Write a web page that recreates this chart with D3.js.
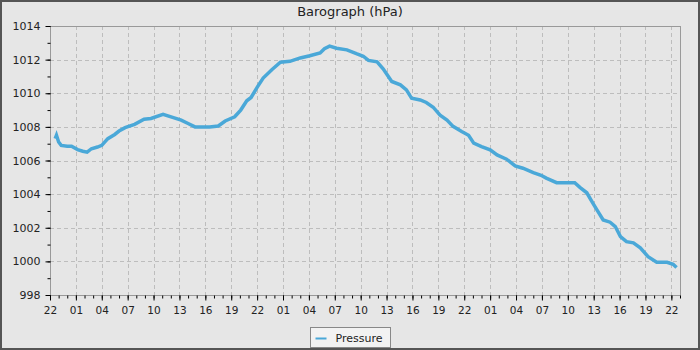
<!DOCTYPE html>
<html>
<head>
<meta charset="utf-8">
<script src="https://cdn.jsdelivr.net/npm/d3@7"></script>
<style>
  body { margin: 0; background: #e6e6e6; }
  svg { display: block; font-family: "DejaVu Sans", sans-serif; }
</style>
</head>
<body>
<div id="chart"></div>
<script>
// --- DATA (hours since 22:00 on the first day, pressure in hPa) ---
const hoursFromStart = [
  0.6, 0.75, 1.0, 1.3, 2.0, 2.5, 3.2, 3.8, 4.3, 4.8, 5.5, 6.0, 6.7, 7.5, 8.0, 8.7,
  9.8, 10.9, 11.7, 13.1, 14.3, 15.2, 16.0, 16.8, 17.5, 18.5, 19.5, 20.3, 21.4, 22.1,
  22.8, 23.3, 24.0, 24.7, 25.7, 26.7, 27.8, 29.0, 30.1, 31.3, 31.8, 32.4, 33.2, 34.4,
  35.5, 36.3, 36.9, 37.9, 38.6, 39.6, 40.6, 41.3, 41.9, 42.9, 43.6, 44.4, 45.2, 46.0,
  46.7, 47.7, 48.5, 49.1, 50.0, 51.0, 51.8, 52.9, 53.9, 54.8, 56.0, 56.9, 57.5, 58.7,
  59.9, 60.8, 61.4, 62.2, 62.9, 63.5, 64.1, 64.9, 65.5, 66.1, 66.8, 67.6, 68.4, 69.3,
  70.3, 71.5, 72.2, 72.6
];
const pressure = [
  1007.3, 1007.5, 1007.1, 1006.9, 1006.85, 1006.85, 1006.65, 1006.55, 1006.5, 1006.7,
  1006.8, 1006.9, 1007.3, 1007.55, 1007.75, 1007.95, 1008.15, 1008.45, 1008.5, 1008.75,
  1008.55, 1008.4, 1008.2, 1008.0, 1008.0, 1008.0, 1008.05, 1008.35, 1008.6, 1009.0,
  1009.55, 1009.75, 1010.35, 1010.9, 1011.4, 1011.85, 1011.9, 1012.1, 1012.23, 1012.4,
  1012.65, 1012.8, 1012.68, 1012.58, 1012.35, 1012.2, 1011.95, 1011.87, 1011.45, 1010.7,
  1010.5, 1010.2, 1009.7, 1009.6, 1009.45, 1009.17, 1008.7, 1008.4, 1008.03, 1007.72,
  1007.5, 1007.03, 1006.83, 1006.63, 1006.33, 1006.08, 1005.68, 1005.54, 1005.28, 1005.12,
  1004.95, 1004.68, 1004.68, 1004.68, 1004.4, 1004.08, 1003.46, 1002.96, 1002.46, 1002.33,
  1002.07, 1001.47, 1001.17, 1001.1, 1000.8, 1000.28, 999.95, 999.95, 999.83, 999.63
];
const yTicks = [998, 1000, 1002, 1004, 1006, 1008, 1010, 1012, 1014];
const title = "Barograph (hPa)";
const seriesName = "Pressure";

const start = new Date(2024, 0, 1, 22, 0);
const end = new Date(2024, 0, 4, 23, 0);
const data = hoursFromStart.map((h, i) => ({
  time: new Date(start.getTime() + h * 3600e3),
  value: pressure[i]
}));

// --- SVG setup ---
const width = 700, height = 350;
const margin = { top: 26, right: 20, bottom: 55, left: 50 };
const lineColor = "#4aa8d8";

const svg = d3.select("#chart")
  .append("svg")
  .attr("width", width)
  .attr("height", height);

svg.append("rect")
  .attr("x", 1).attr("y", 1)
  .attr("width", width - 2).attr("height", height - 2)
  .attr("fill", "#e6e6e6")
  .attr("stroke", "#555")
  .attr("stroke-width", 2);

// --- SCALES ---
const x = d3.scaleTime()
  .domain([start, end])
  .range([margin.left, width - margin.right]);

const y = d3.scaleLinear()
  .domain([998, 1014])
  .range([height - margin.bottom, margin.top]);

const majorX = d3.timeHour.range(start, d3.timeHour.offset(end, 1), 3);
const minorX = d3.timeHour.range(start, d3.timeHour.offset(end, 1));
const minorY = d3.range(998, 1015, 1);

// --- GRID ---
svg.append("g")
  .selectAll("line")
  .data(majorX.slice(1))
  .join("line")
  .attr("x1", d => Math.round(x(d)) + 0.5)
  .attr("x2", d => Math.round(x(d)) + 0.5)
  .attr("y1", margin.top)
  .attr("y2", height - margin.bottom)
  .attr("stroke", "#bdbdbd")
  .attr("stroke-dasharray", "4,3");

svg.append("g")
  .selectAll("line")
  .data(yTicks.slice(1, -1))
  .join("line")
  .attr("x1", margin.left)
  .attr("x2", width - margin.right)
  .attr("y1", d => Math.round(y(d)) + 0.5)
  .attr("y2", d => Math.round(y(d)) + 0.5)
  .attr("stroke", "#bdbdbd")
  .attr("stroke-dasharray", "4,3");

// --- LINE ---
svg.append("path")
  .datum(data)
  .attr("fill", "none")
  .attr("stroke", lineColor)
  .attr("stroke-width", 3.5)
  .attr("d", d3.line().x(d => x(d.time)).y(d => y(d.value)));

// --- FRAME ---
svg.append("rect")
  .attr("x", margin.left + 0.5)
  .attr("y", margin.top + 0.5)
  .attr("width", width - margin.left - margin.right)
  .attr("height", height - margin.top - margin.bottom)
  .attr("fill", "none")
  .attr("stroke", "#999");

// --- AXES ---
const xAxis = svg.append("g")
  .attr("transform", `translate(0,${height - margin.bottom + 0.5})`);
xAxis.call(d3.axisBottom(x).tickValues(minorX).tickSize(3).tickFormat(""))
  .call(g => g.select(".domain").remove());
xAxis.append("g")
  .call(d3.axisBottom(x).tickValues(majorX).tickSize(5).tickPadding(6).tickFormat(d3.timeFormat("%H")))
  .call(g => g.select(".domain").remove())
  .selectAll("text")
  .style("font-size", "10.5px")
  .style("font-family", "DejaVu Sans")
  .style("fill", "#222");

const yAxis = svg.append("g")
  .attr("transform", `translate(${margin.left + 0.5},0)`);
yAxis.call(d3.axisLeft(y).tickValues(minorY).tickSize(3).tickFormat(""))
  .call(g => g.select(".domain").remove());
yAxis.append("g")
  .call(d3.axisLeft(y).tickValues(yTicks).tickSize(5).tickPadding(5).tickFormat(d3.format("d")))
  .call(g => g.select(".domain").remove())
  .selectAll("text")
  .style("font-size", "11px")
  .style("font-family", "DejaVu Sans")
  .style("fill", "#222");

// --- TITLE ---
svg.append("text")
  .attr("x", width / 2)
  .attr("y", 16)
  .attr("text-anchor", "middle")
  .style("font-size", "13px")
  .style("fill", "#222")
  .text(title);

// --- LEGEND ---
const legend = svg.append("g")
  .attr("transform", "translate(310.5,327.5)");

legend.append("rect")
  .attr("width", 80)
  .attr("height", 20)
  .attr("fill", "#f2f2f2")
  .attr("stroke", "#888");

legend.append("line")
  .attr("x1", 5).attr("x2", 16)
  .attr("y1", 11).attr("y2", 11)
  .attr("stroke", lineColor)
  .attr("stroke-width", 2);

legend.append("text")
  .attr("x", 25)
  .attr("y", 14)
  .style("font-size", "11px")
  .style("fill", "#222")
  .text(seriesName);
</script>
</body>
</html>
